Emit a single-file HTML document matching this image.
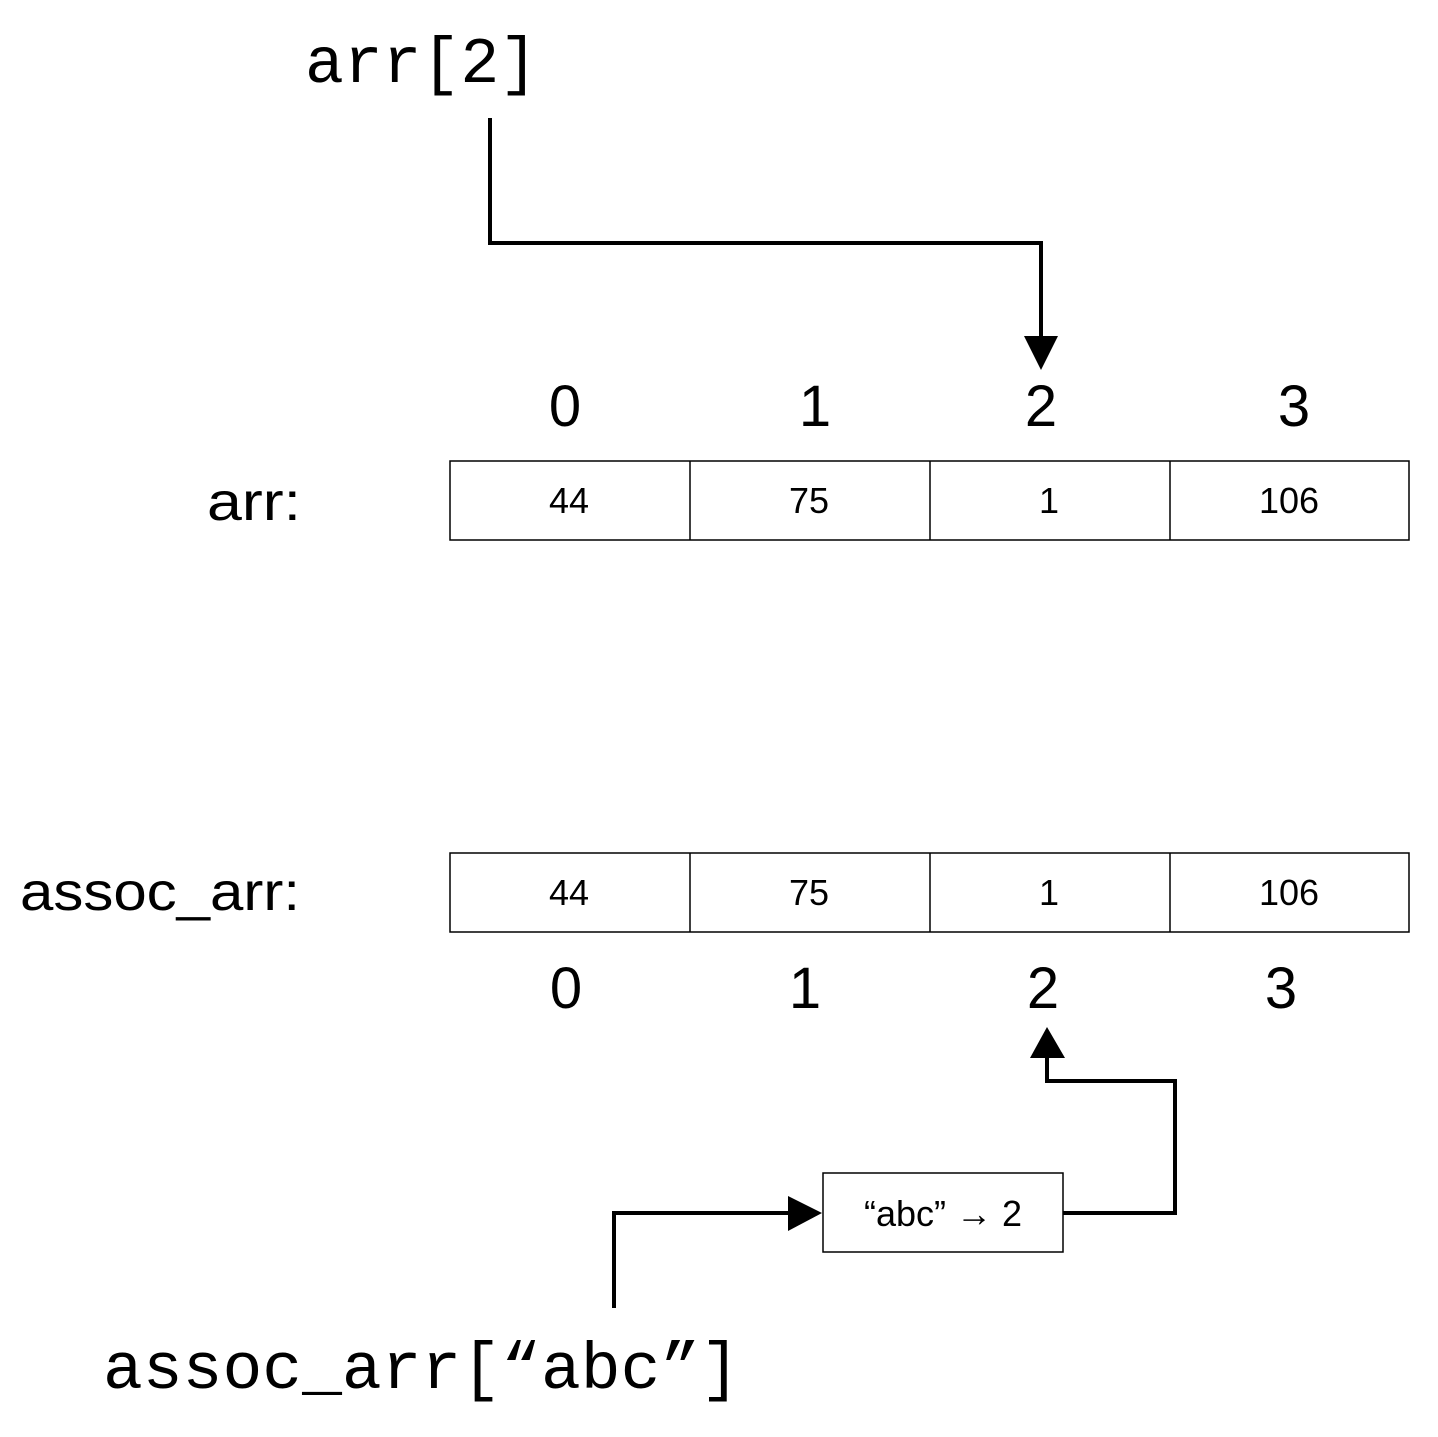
<!DOCTYPE html>
<html><head><style>body{margin:0;background:#fff}</style></head><body>
<svg width="1438" height="1432" xmlns="http://www.w3.org/2000/svg">
<rect width="1438" height="1432" fill="#fff"/>
<g font-family="Liberation Mono, monospace" fill="#000">
<text x="305" y="82" font-size="65" textLength="233" lengthAdjust="spacingAndGlyphs">arr[2]</text>
<text x="103" y="1388" font-size="66" textLength="637" lengthAdjust="spacingAndGlyphs">assoc_arr[“abc”]</text>
</g>
<g stroke="#000" stroke-width="4" fill="none">
<polyline points="490,118 490,243 1041,243 1041,340"/>
<polyline points="1047,1056 1047,1081 1175,1081 1175,1213 1063,1213"/>
<polyline points="614,1308 614,1213 792,1213"/>
</g>
<g fill="#000">
<polygon points="1024,336 1058,336 1041,370"/>
<polygon points="1030,1058 1065,1058 1047,1027"/>
<polygon points="788,1196 788,1231 822,1213"/>
</g>
<g stroke="#000" stroke-width="1.5" fill="#fff">
<rect x="450" y="461" width="959" height="79"/>
<line x1="690" y1="461" x2="690" y2="540"/><line x1="930" y1="461" x2="930" y2="540"/><line x1="1170" y1="461" x2="1170" y2="540"/>
<rect x="450" y="853" width="959" height="79"/>
<line x1="690" y1="853" x2="690" y2="932"/><line x1="930" y1="853" x2="930" y2="932"/><line x1="1170" y1="853" x2="1170" y2="932"/>
<rect x="823" y="1173" width="240" height="79"/>
</g>
<g font-family="Liberation Sans, sans-serif" fill="#000" text-anchor="middle">
<g font-size="58">
<text x="565" y="426">0</text><text x="815" y="426">1</text><text x="1041" y="426">2</text><text x="1294" y="426">3</text>
<text x="566" y="1008">0</text><text x="805" y="1008">1</text><text x="1043" y="1008">2</text><text x="1281" y="1008">3</text>
</g>
<g font-size="36">
<text x="569" y="513">44</text><text x="809" y="513">75</text><text x="1049" y="513">1</text><text x="1289" y="513">106</text>
<text x="569" y="905">44</text><text x="809" y="905">75</text><text x="1049" y="905">1</text><text x="1289" y="905">106</text>
<text x="943" y="1226">“abc” → 2</text>
</g>
</g>
<g font-family="Liberation Sans, sans-serif" fill="#000" font-size="54">
<text x="207" y="520" textLength="94" lengthAdjust="spacingAndGlyphs">arr:</text>
<text x="20" y="910" textLength="280" lengthAdjust="spacingAndGlyphs">assoc_arr:</text>
</g>
</svg>
</body></html>
